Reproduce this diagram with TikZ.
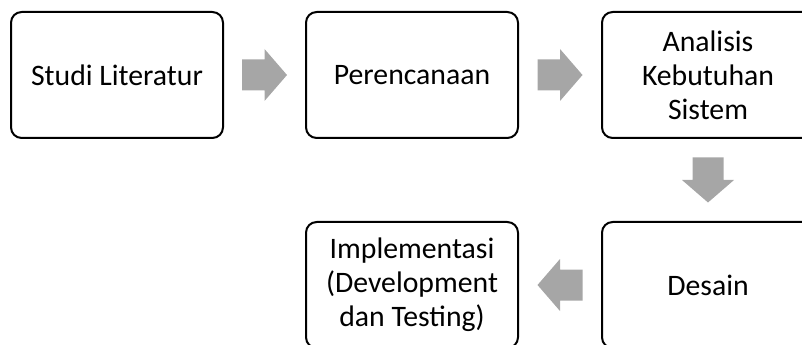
\documentclass[tikz,border=0pt]{standalone}
\usepackage{fontspec}
\setmainfont{Carlito}
\usetikzlibrary{calc}
\definecolor{arrowgray}{HTML}{A6A6A6}
\tikzset{
  stepbox/.style={draw=black, line width=1.5pt, rounded corners=8pt, fill=white,
    minimum width=159pt, minimum height=94.5pt, align=center, inner sep=2pt,
    font=\fontsize{22.3pt}{25.5pt}\selectfont},
  pics/blockarrow/.style={code={
    \fill[arrowgray] (-22.5,-15.5) -- (0,-15.5) -- (0,-26) -- (22.5,0)
      -- (0,26) -- (0,15.5) -- (-22.5,15.5) -- cycle;}}
}
\begin{document}
\begin{tikzpicture}[x=0.75pt,y=-0.75pt]
\useasboundingbox (0,0) rectangle (802,345);
\clip (0,0) rectangle (802,345);
\node[stepbox] (studi) at (117,75) {Studi Literatur};
\node[stepbox] (rencana) at (412,75) {Perencanaan};
\node[stepbox] (analisis) at (708,75) {Analisis\\Kebutuhan\\Sistem};
\node[stepbox] (desain) at (708,285) {Desain};
\node[stepbox] (impl) at (412,285) {Implementasi\\(Development\\dan Testing)};
\coordinate (a1) at ($(studi.east)!0.5!(rencana.west)$);
\coordinate (a2) at ($(rencana.east)!0.5!(analisis.west)$);
\coordinate (a3) at ($(analisis.south)!0.5!(desain.north)$);
\coordinate (a4) at ($(desain.west)!0.5!(impl.east)$);
\pic at (a1) {blockarrow};
\pic at (a2) {blockarrow};
\pic[rotate=-90] at (a3) {blockarrow};
\pic[rotate=180] at (a4) {blockarrow};
\end{tikzpicture}
\end{document}
